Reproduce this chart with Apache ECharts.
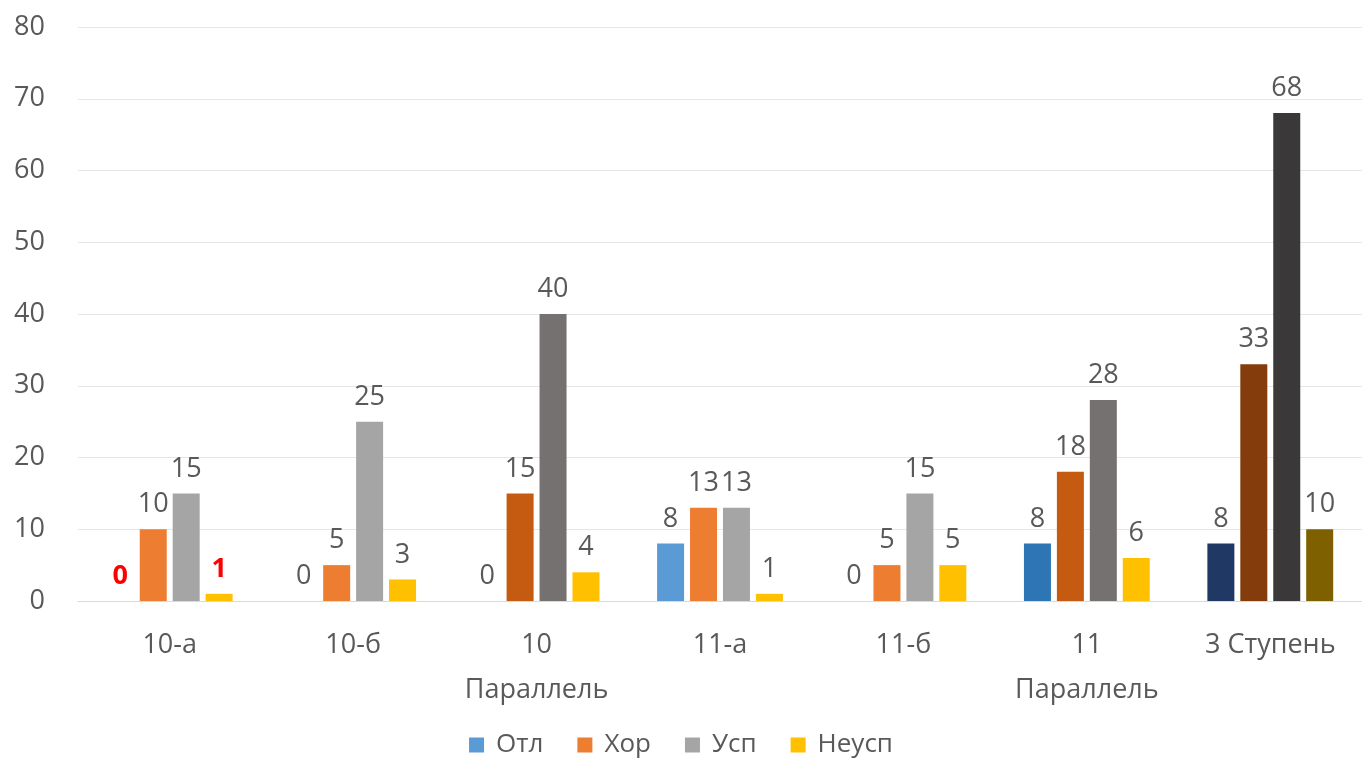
<!DOCTYPE html>
<html>
<head>
<meta charset="utf-8">
<script src="https://cdn.jsdelivr.net/npm/echarts@6/dist/echarts.min.js"></script>
<style>
  html, body { margin: 0; padding: 0; background: #fff; }
  #chart { width: 1362px; height: 760px; }
</style>
</head>
<body>
<div id="chart"></div>
<script>
// categories and series values
var categories = ["10-а", "10-б", "10\nПараллель", "11-а", "11-б", "11\nПараллель", "3 Ступень"];
var seriesNames = ["Отл", "Хор", "Усп", "Неусп"];
var otl = [0, 0, 0, 8, 0, 8, 8];
var hor = [10, 5, 15, 13, 5, 18, 33];
var usp = [15, 25, 40, 13, 15, 28, 68];
var neusp = [1, 3, 4, 1, 5, 6, 10];
var yTicks = [0, 10, 20, 30, 40, 50, 60, 70, 80];

// colours: normal classes, parallels (darker), whole stage (darkest)
var baseColors = ["#5B9BD5", "#ED7D31", "#A5A5A5", "#FFC000"];
var parColors = ["#2E75B6", "#C55A11", "#767171", "#FFC000"];
var stageColors = ["#1F3864", "#843C0C", "#3A3838", "#7F6000"];
var colorSet = [baseColors, baseColors, parColors, baseColors, baseColors, parColors, stageColors];

// labels shown in red bold (10-а: Отл and Неусп)
var redLabels = { "0-0": true, "3-0": true };

var allValues = [otl, hor, usp, neusp];
var font = "Open Sans";

function buildData(si) {
  return allValues[si].map(function (v, ci) {
    var d = { value: v, itemStyle: { color: colorSet[ci][si] } };
    if (redLabels[si + "-" + ci]) {
      d.label = { color: "#FF0000", fontWeight: "bold" };
    }
    return d;
  });
}

var myChart = echarts.init(document.getElementById("chart"));

var series = seriesNames.map(function (name, si) {
  return {
    name: name,
    type: "bar",
    barWidth: 27,
    barGap: "22%",
    itemStyle: { color: baseColors[si] },
    label: {
      show: true,
      position: "top",
      distance: 11,
      color: "#595959",
      fontSize: 27,
      fontFamily: font
    },
    data: buildData(si)
  };
});

var option = {
  animation: false,
  textStyle: { fontFamily: font },
  grid: { left: 78, right: 0, top: 27, bottom: 159 },
  legend: {
    data: seriesNames,
    bottom: -3,
    left: "center",
    itemWidth: 15,
    itemHeight: 15,
    itemGap: 34,
    icon: "rect",
    textStyle: { color: "#595959", fontSize: 26, fontFamily: font, padding: [0, 0, 0, 7] }
  },
  xAxis: {
    type: "category",
    data: categories,
    axisLine: { lineStyle: { color: "#D9D9D9" } },
    axisTick: { show: false },
    axisLabel: {
      interval: 0,
      hideOverlap: false,
      color: "#595959",
      fontSize: 27,
      margin: 22,
      lineHeight: 45,
      verticalAlign: "top",
      fontFamily: font
    }
  },
  yAxis: {
    type: "value",
    min: yTicks[0],
    max: yTicks[yTicks.length - 1],
    interval: 10,
    axisLine: { show: false },
    axisTick: { show: false },
    splitLine: { lineStyle: { color: "#E6E6E6" } },
    axisLabel: {
      color: "#595959",
      fontSize: 27,
      margin: 33,
      fontFamily: font
    }
  },
  series: series
};

myChart.setOption(option);
</script>
</body>
</html>
